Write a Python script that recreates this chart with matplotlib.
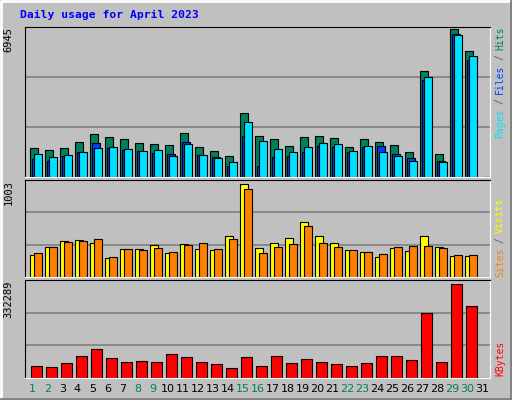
import matplotlib
matplotlib.use("Agg")
import matplotlib.pyplot as plt

days = list(range(1, 32))
weekend = [1, 2, 8, 9, 15, 16, 22, 23, 29, 30]
hits = [1383,1288,1383,1665,2042,1901,1807,1618,1571,1524,2090,1430,1241,1005,3032,1948,1807,1477,1901,1948,1854,1430,1807,1665,1524,1194,4964,1100,6945,5907,0]
files = [864,770,1005,1194,1618,1383,1288,1241,1147,1100,1665,1053,958,534,1948,534,958,1005,1194,1477,1430,1194,1430,1477,1100,911,4540,770,6708,5483,0]
pages = [1100,958,1053,1194,1383,1430,1335,1241,1288,1005,1571,1053,911,723,2608,1712,1335,1194,1430,1618,1571,1241,1477,1194,1005,770,4713,723,6661,5671,0]
visits = [242,328,393,404,372,209,307,307,350,263,361,307,296,447,1003,318,372,426,599,447,372,296,274,220,318,285,447,328,231,231,0]
sites = [263,328,382,393,415,220,307,296,318,274,350,372,307,415,956,263,328,361,556,372,328,296,274,253,328,339,339,318,242,242,0]
kbytes = [41232,37594,52146,77613,103080,70337,55784,59422,55784,84889,73975,55784,48508,33956,73975,41232,77613,52146,66699,55784,48508,41232,52146,77613,77613,63060,230413,55784,332289,252242,0]

BG = "#c0c0c0"
fig = plt.figure(figsize=(5.12, 4.0), dpi=100, facecolor=BG)
mono = "DejaVu Sans Mono"

def panel(rect, ymax, label):
    ax = fig.add_axes(rect, facecolor=BG)
    ax.set_xlim(0.5, 31.5)
    ax.set_ylim(0, ymax)
    for k in (1, 2):
        ax.axhline(ymax * k / 3, color="#808080", lw=1.2, zorder=0)
    ax.set_xticks([]); ax.set_yticks([])
    for s in ("top", "left"):
        ax.spines[s].set_color("black")
    for s in ("bottom", "right"):
        ax.spines[s].set_color("white")
    ax.text(-0.025, 1.0, label, transform=ax.transAxes, rotation=90,
            ha="right", va="top", fontsize=7.5, family=mono)
    return ax

ax1 = panel([25/512, 1-177/400, 465/512, 150/400], 6945*1.016, "6945")
kw = dict(width=0.49, align="edge", edgecolor="black", linewidth=0.8)
ax1.bar([d - 0.144 for d in days], hits, color="#00805c", **kw)
ax1.bar([d - 0.011 for d in days], files, color="#0040ff", **kw)
ax1.bar([d + 0.122 for d in days], pages, color="#00e0ff", **kw)

ax2 = panel([25/512, 1-277/400, 465/512, 97/400], 1003*1.045, "1003")
ax2.bar([d - 0.144 for d in days], visits, color="#ffff00", **kw)
ax2.bar([d + 0.122 for d in days], sites, color="#ff8000", **kw)

ax3 = panel([25/512, 1-378/400, 465/512, 98/400], 332289*1.04, "332289")
ax3.bar([d - 0.08 for d in days], kbytes, width=0.69, align="edge",
        edgecolor="black", linewidth=0.8, color="#ff0000")

for d in days:
    ax3.text(d, -0.06, str(d), transform=ax3.get_xaxis_transform(),
             ha="center", va="top", fontsize=8,
             color="#00805c" if d in weekend else "black")

fig.text(20/512, 1-15/400, "Daily usage for April 2023", color="#0000ff",
         fontsize=8.2, family=mono, weight="bold", ha="left", va="center")

def rlabel(parts, x):
    for txt, y, c in parts:
        fig.text(x/512, 1-y/400, txt, rotation=90, color=c, fontsize=7,
                 family=mono, ha="center", va="center")

rlabel([("Pages", 123, "#00e0ff"), ("/", 101, "#606060"), ("Files", 79, "#0040ff"),
        ("/", 57, "#606060"), ("Hits", 38, "#00805c")], 500)
rlabel([("Sites", 262, "#ff8000"), ("/", 240, "#606060"), ("Visits", 215, "#ffff00")], 500)
rlabel([("KBytes", 358, "#ff0000")], 500)

fig.add_artist(plt.Line2D([0.002, 0.002, 0.998], [0.002, 0.998, 0.998], color="white", lw=2, transform=fig.transFigure))
fig.add_artist(plt.Line2D([0.002, 0.998, 0.998], [0.002, 0.002, 0.998], color="#808080", lw=2, transform=fig.transFigure))

fig.savefig("out.png", dpi=100, facecolor=BG)
